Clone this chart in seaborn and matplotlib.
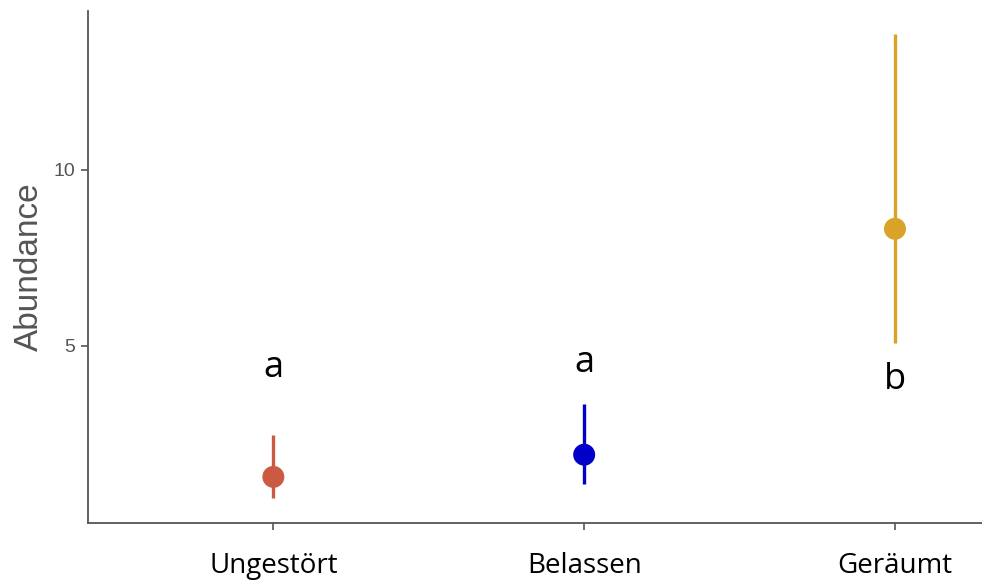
import matplotlib
matplotlib.use("Agg")
import matplotlib.pyplot as plt
import seaborn as sns
import pandas as pd

# Mean abundance per treatment with lower / upper interval bounds
treatments = ["Ungestört", "Belassen", "Geräumt"]
mean_abundance = [1.28, 1.91, 8.32]
ci_low = [0.69, 1.09, 5.08]
ci_high = [2.47, 3.35, 13.85]
group_letters = ["a", "a", "b"]
letter_heights = [4.11, 4.26, 3.78]
colors = ["#CC5A42", "#0000C8", "#D9A228"]

yticks = [5, 10]

df = pd.DataFrame({
    "Behandlung": treatments,
    "Abundance": mean_abundance,
    "lo": ci_low,
    "hi": ci_high,
})

sns.set_theme(style="white")
plt.rcParams["font.family"] = ["Liberation Sans", "DejaVu Sans"]

fig = plt.figure(figsize=(9.82, 5.81), dpi=100)
ax = fig.add_axes([87.5 / 982, 1 - 522.7 / 581, 1 - 87.5 / 982, (522.7 - 11) / 581])

# interval lines
for i, row in df.iterrows():
    ax.vlines(row["Behandlung"], row["lo"], row["hi"], color=colors[i],
              linewidth=2.4, zorder=2)

sns.scatterplot(data=df, x="Behandlung", y="Abundance", hue="Behandlung",
                palette=colors, s=250, edgecolor="none", legend=False,
                ax=ax, zorder=3)

# significance letters
for i, (lab, h) in enumerate(zip(group_letters, letter_heights)):
    ax.text(i, h, lab, ha="center", va="baseline", fontsize=26,
            family=["Open Sans", "DejaVu Sans"], color="black")

ax.set_xlim(-0.598, 2.28)
ax.set_ylim(-0.02, 14.5)
ax.set_yticks(yticks)
ax.set_yticklabels([str(t) for t in yticks])

axis_col = "#555555"
for side in ["top", "right"]:
    ax.spines[side].set_visible(False)
for side in ["left", "bottom"]:
    ax.spines[side].set_color(axis_col)
    ax.spines[side].set_linewidth(1.3)

ax.tick_params(axis="y", which="major", left=True, length=5, width=1.2,
               color=axis_col, labelcolor="#555555", labelsize=14, pad=4)
ax.tick_params(axis="x", which="major", bottom=True, length=5, width=1.2,
               color=axis_col, labelcolor="black", labelsize=20, pad=16)
for lbl in ax.get_xticklabels():
    lbl.set_family(["Open Sans", "DejaVu Sans"])

ax.set_xlabel("")
ax.set_ylabel("Abundance", fontsize=24, color="#555555", labelpad=6)

fig.savefig("out.png", dpi=100, facecolor="white")
